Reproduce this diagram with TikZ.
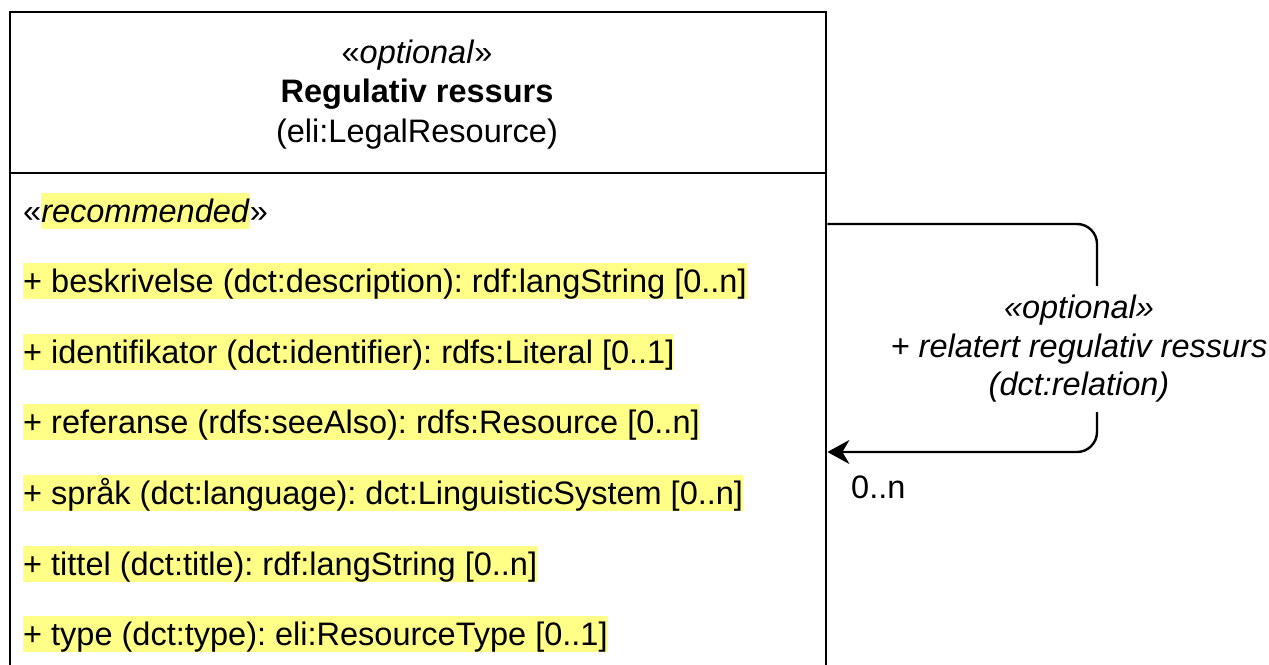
\documentclass[tikz,border=0pt]{standalone}
\usepackage{fontspec}
\setmainfont{Liberation Sans}
\usepackage{tikz}
\usetikzlibrary{arrows.meta}
\frenchspacing

\definecolor{umlhl}{HTML}{FFFF88}
\newcommand{\hltext}[1]{{\setlength{\fboxsep}{0pt}\colorbox{umlhl}{\rule[-0.212em]{0pt}{1.117em}#1}}}

\begin{document}
\begin{tikzpicture} [x = 1pt, y = -1pt,
    umlline/.style = {line width = 2.4pt},
    umltext/.style = {inner sep = 0pt, font = \fontsize{32.5}{39}\selectfont},
    attrtext/.style = {umltext, anchor = base west}]
                \useasboundingbox (0,0) rectangle (1269,664);
                \clip (0,0) rectangle (1269,664);
                % class box, runs past the bottom edge
                \node [draw, umlline, minimum width = 816pt, minimum height = 720pt, anchor = north west, inner sep = 0pt] (cls) at (9,11) {};
                \draw [umlline] (cls.west |- 0,173) -- (cls.east |- 0,173);
                \node [umltext, anchor = base] (stereo) at (417,63) {«\textit{optional}»};
                \node [umltext, anchor = base] (clsname) at (417,102) {\textbf{Regulativ ressurs}};
                \node [umltext, anchor = base] (clsns) at (417,142) {(eli:LegalResource)};
                \node [attrtext] (attrst) at (23,222) {«\hltext{\textit{recommended}}»};
                \foreach \yb/\txt [count = \i] in {
                    292/{+ beskrivelse (dct:description): rdf:langString [0..n]},
                    363/{+ identifikator (dct:identifier): rdfs:Literal [0..1]},
                    433/{+ referanse (rdfs:seeAlso): rdfs:Resource [0..n]},
                    504/{+ språk (dct:language): dct:LinguisticSystem [0..n]},
                    575/{+ tittel (dct:title): rdf:langString [0..n]},
                    645/{+ type (dct:type): eli:ResourceType [0..1]}}
                    \node [attrtext] (attr\i) at (23,\yb) {\hltext{\txt}};
                % self association
                \coordinate (relout) at (cls.east |- 0,224);
                \coordinate (relin) at (cls.east |- 0,452);
                \draw [umlline, -{Stealth[length = 22pt, width = 24pt, inset = 7pt]}, rounded corners = 20pt] (relout) -- (1097,224) -- (1097,452) -- (relin);
                \node [umltext, fill = white, align = center, inner xsep = 2pt, inner ysep = 9pt, font = \fontsize{32.5}{38.5}\selectfont\itshape] (rellabel) at (1079,349) {«optional»\\+ relatert regulativ ressurs\\(dct:relation)};
                \node [umltext, anchor = base west] (relmult) at (851,498) {0..n};
            \end{tikzpicture}
\end{document}
